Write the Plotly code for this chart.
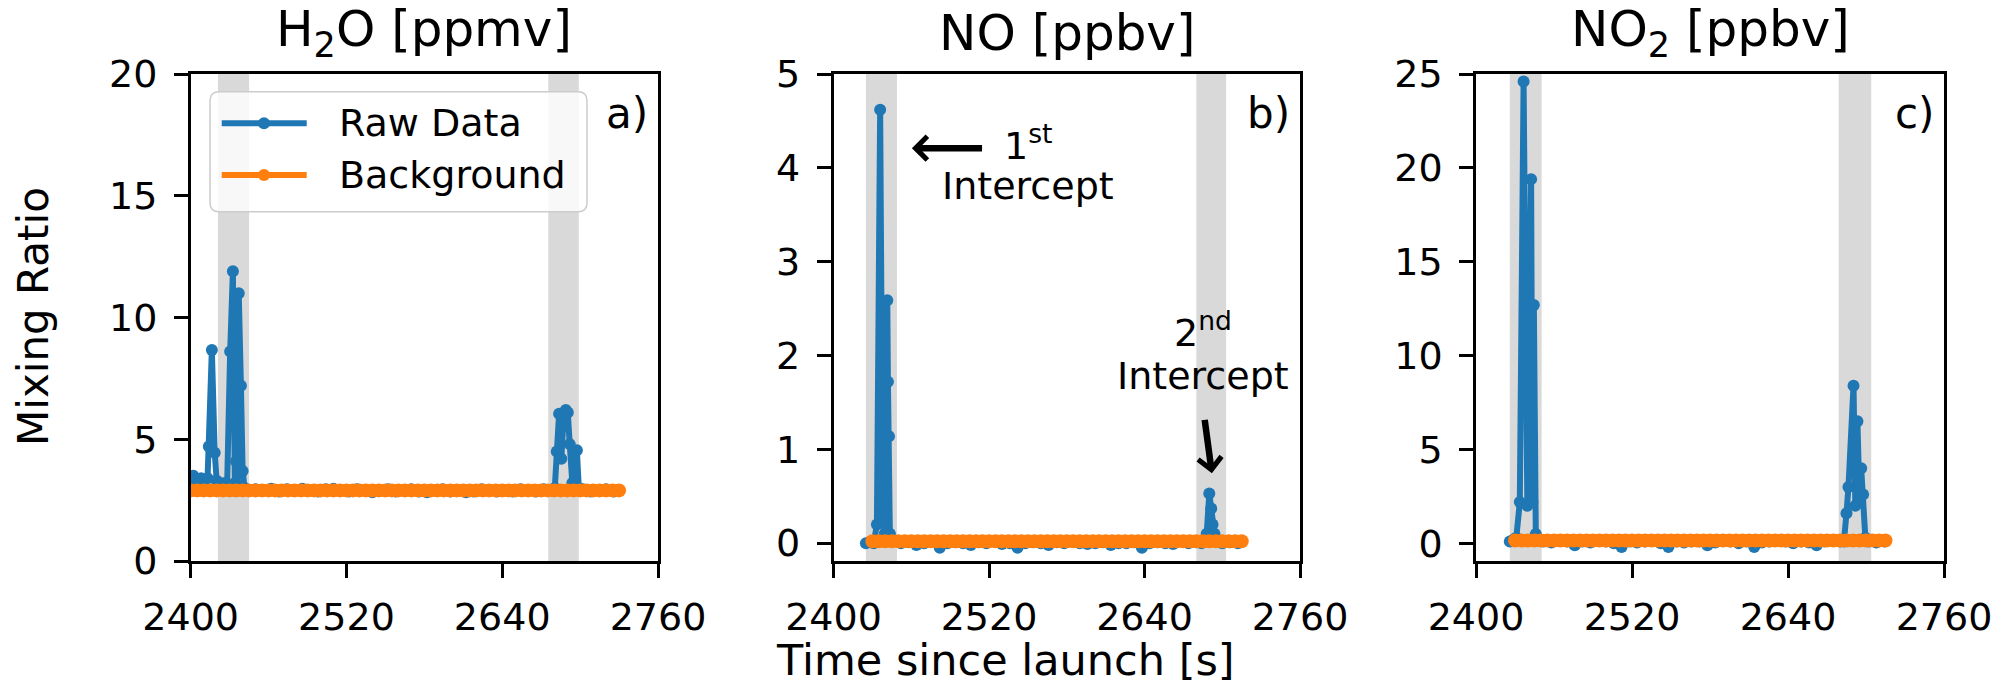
import plotly.graph_objects as go

# ---------------- data ----------------
panel_titles = ["H<sub>2</sub>O [ppmv]", "NO [ppbv]", "NO<sub>2</sub> [ppbv]"]
panel_labels = ["a)", "b)", "c)"]
x_ticks = [2400, 2520, 2640, 2760]

# H2O raw data
raw_a_t = [2396, 2399, 2402, 2405, 2408, 2411, 2413, 2414, 2416.3, 2418.5, 2420, 2422, 2424, 2426, 2428,
           2430.4, 2432.5, 2434, 2435, 2436, 2437, 2438.7, 2440, 2441.5, 2444,
           2450, 2456, 2462, 2468, 2474, 2480, 2486, 2492, 2498, 2504, 2510, 2516, 2522, 2528, 2534, 2540,
           2546, 2552, 2558, 2564, 2570, 2576, 2582, 2588, 2594, 2600, 2606, 2612, 2618, 2624, 2630, 2636,
           2642, 2648, 2654, 2660, 2666, 2672, 2678,
           2680.5, 2682, 2683.8, 2685.5, 2687, 2689, 2690.5, 2692, 2694, 2695.5, 2697.5, 2699,
           2702, 2708, 2714, 2720, 2726, 2730]
raw_a_v = [3.4, 3.3, 3.5, 3.3, 3.4, 3.3, 3.4, 4.7, 8.67, 4.45, 3.3, 3.2, 3.1, 3.2, 3.0,
           8.6, 11.9, 3.2, 4.1, 3.1, 11.0, 7.2, 3.7, 3.0, 2.9,
           2.95, 2.9, 2.97, 2.85, 2.95, 2.9, 2.97, 2.9, 2.85, 2.95, 2.97, 2.9, 2.85, 2.95, 2.9, 2.82,
           2.9, 2.95, 2.85, 2.9, 2.95, 2.85, 2.82, 2.9, 2.95, 2.85, 2.9, 2.82, 2.85, 2.95, 2.9, 2.85,
           2.9, 2.85, 2.95, 2.9, 2.85, 2.95, 2.9,
           3.0, 4.5, 6.05, 4.2, 5.6, 6.2, 6.1, 4.8, 3.2, 3.1, 4.55, 3.0,
           2.95, 2.85, 2.9, 2.95, 2.85, 2.9]
bg_a_t = [2395, 2400, 2405, 2410, 2415, 2420, 2425, 2430, 2435, 2440, 2445, 2450, 2455, 2460, 2465, 2470,
          2475, 2480, 2485, 2490, 2495, 2500, 2505, 2510, 2515, 2520, 2525, 2530, 2535, 2540, 2545, 2550,
          2555, 2560, 2565, 2570, 2575, 2580, 2585, 2590, 2595, 2600, 2605, 2610, 2615, 2620, 2625, 2630,
          2635, 2640, 2645, 2650, 2655, 2660, 2665, 2670, 2675, 2680, 2685, 2690, 2695, 2700, 2705, 2710,
          2715, 2720, 2725, 2730]
bg_a_v = [2.9, 2.9, 2.9, 2.9, 2.9, 2.9, 2.9, 2.9, 2.9, 2.9, 2.9, 2.9, 2.9, 2.9, 2.9, 2.9,
          2.9, 2.9, 2.9, 2.9, 2.9, 2.9, 2.9, 2.9, 2.9, 2.9, 2.9, 2.9, 2.9, 2.9, 2.9, 2.9,
          2.9, 2.9, 2.9, 2.9, 2.9, 2.9, 2.9, 2.9, 2.9, 2.9, 2.9, 2.9, 2.9, 2.9, 2.9, 2.9,
          2.9, 2.9, 2.9, 2.9, 2.9, 2.9, 2.9, 2.9, 2.9, 2.9, 2.9, 2.9, 2.9, 2.9, 2.9, 2.9,
          2.9, 2.9, 2.9, 2.9]

# NO raw data
raw_b_t = [2425, 2428, 2431, 2433.5, 2436, 2438, 2439.5, 2441.5, 2442, 2442.8, 2443.5, 2446,
           2452, 2458, 2464, 2470, 2476, 2482, 2488, 2494, 2500, 2506, 2512, 2518, 2524, 2530, 2536,
           2542, 2548, 2554, 2560, 2566, 2572, 2578, 2584, 2590, 2596, 2602, 2608, 2614, 2620, 2626,
           2632, 2638, 2644, 2650, 2656, 2662, 2668, 2674, 2680,
           2684, 2686, 2688, 2690, 2691.5, 2692.5, 2694, 2696, 2700, 2706, 2712]
raw_b_v = [0.0, 0.01, 0.0, 0.2, 4.62, 0.3, 0.1, 2.59, 1.72, 1.14, 0.1, 0.02,
           0.0, 0.01, -0.02, 0.0, 0.02, -0.05, 0.0, 0.01, 0.0, -0.02, 0.01, 0.0, 0.02, -0.01, 0.0,
           -0.05, 0.0, 0.01, 0.0, -0.02, 0.01, 0.0, 0.02, 0.0, -0.01, 0.0, 0.01, -0.02, 0.0, 0.0,
           0.01, -0.05, 0.0, 0.01, 0.0, -0.01, 0.02, 0.0, 0.01,
           0.0, 0.02, 0.1, 0.53, 0.37, 0.2, 0.1, 0.02, 0.0, 0.01, 0.0]
bg_bc_t = [2430, 2435, 2440, 2445, 2450, 2455, 2460, 2465, 2470, 2475, 2480, 2485, 2490, 2495, 2500,
           2505, 2510, 2515, 2520, 2525, 2530, 2535, 2540, 2545, 2550, 2555, 2560, 2565, 2570, 2575,
           2580, 2585, 2590, 2595, 2600, 2605, 2610, 2615, 2620, 2625, 2630, 2635, 2640, 2645, 2650,
           2655, 2660, 2665, 2670, 2675, 2680, 2685, 2690, 2695, 2700, 2705, 2710, 2715]
bg_b_v = [0.02, 0.02, 0.02, 0.02, 0.02, 0.02, 0.02, 0.02, 0.02, 0.02, 0.02, 0.02, 0.02, 0.02, 0.02,
          0.02, 0.02, 0.02, 0.02, 0.02, 0.02, 0.02, 0.02, 0.02, 0.02, 0.02, 0.02, 0.02, 0.02, 0.02,
          0.02, 0.02, 0.02, 0.02, 0.02, 0.02, 0.02, 0.02, 0.02, 0.02, 0.02, 0.02, 0.02, 0.02, 0.02,
          0.02, 0.02, 0.02, 0.02, 0.02, 0.02, 0.02, 0.02, 0.02, 0.02, 0.02, 0.02, 0.02]

# NO2 raw data
raw_c_t = [2426, 2429, 2431, 2433.7, 2436.6, 2439.5, 2442.4, 2443.4, 2444.5, 2446, 2448,
           2452, 2458, 2464, 2470, 2476, 2482, 2488, 2494, 2500, 2506, 2512, 2518, 2524, 2530, 2536,
           2542, 2548, 2554, 2560, 2566, 2572, 2578, 2584, 2590, 2596, 2602, 2608, 2614, 2620, 2626,
           2632, 2638, 2644, 2650, 2656, 2662, 2668, 2674, 2680,
           2683, 2685, 2686.5, 2690.4, 2691.8, 2693.4, 2695, 2696.3, 2697.8, 2699.5, 2702, 2708, 2714]
raw_c_v = [0.1, 0.2, 0.3, 2.2, 24.6, 2.0, 19.4, 2.2, 12.7, 0.5, 0.2,
           0.1, 0.05, 0.15, 0.1, -0.1, 0.1, 0.05, 0.15, 0.1, 0.0, -0.2, 0.1, 0.05, 0.1, 0.15,
           0.0, -0.2, 0.1, 0.05, 0.1, 0.1, -0.1, 0.05, 0.15, 0.1, 0.0, 0.1, -0.2, 0.05, 0.1,
           0.15, 0.1, 0.0, 0.1, 0.05, -0.1, 0.1, 0.15, 0.1,
           0.1, 1.6, 3.0, 8.4, 2.0, 6.5, 2.4, 4.0, 2.6, 0.3, 0.1, 0.05, 0.1]
bg_c_v = [0.15, 0.15, 0.15, 0.15, 0.15, 0.15, 0.15, 0.15, 0.15, 0.15, 0.15, 0.15, 0.15, 0.15, 0.15,
          0.15, 0.15, 0.15, 0.15, 0.15, 0.15, 0.15, 0.15, 0.15, 0.15, 0.15, 0.15, 0.15, 0.15, 0.15,
          0.15, 0.15, 0.15, 0.15, 0.15, 0.15, 0.15, 0.15, 0.15, 0.15, 0.15, 0.15, 0.15, 0.15, 0.15,
          0.15, 0.15, 0.15, 0.15, 0.15, 0.15, 0.15, 0.15, 0.15, 0.15, 0.15, 0.15, 0.15]

# intercept windows (shaded) per panel
windows_a = [(2421, 2445), (2675.5, 2699)]
windows_b = [(2425, 2449), (2680, 2703)]
windows_c = [(2426, 2450.5), (2679, 2704)]

y_ranges = [[0, 20], [-0.19, 5], [-0.94, 25]]
y_ticks = [[0, 5, 10, 15, 20], [0, 1, 2, 3, 4, 5], [0, 5, 10, 15, 20, 25]]

# ---------------- figure ----------------
W, H = 2003, 685
FONT = "DejaVu Sans"
BLUE = "#1f77b4"
ORANGE = "#ff7f0e"

x_domains = [[190.7 / W, 658 / W], [833.5 / W, 1300 / W], [1476 / W, 1944 / W]]
y_domain = [1 - 561 / H, 1 - 74 / H]

fig = go.Figure()
raws = [(raw_a_t, raw_a_v), (raw_b_t, raw_b_v), (raw_c_t, raw_c_v)]
bgs = [(bg_a_t, bg_a_v), (bg_bc_t, bg_b_v), (bg_bc_t, bg_c_v)]
windows = [windows_a, windows_b, windows_c]

shapes = []
annotations = []
for i in range(3):
    sfx = "" if i == 0 else str(i + 1)
    xa, ya = "x" + sfx, "y" + sfx
    fig.add_trace(go.Scatter(x=raws[i][0], y=raws[i][1], xaxis=xa, yaxis=ya, mode="lines+markers",
                             line=dict(color=BLUE, width=6), marker=dict(color=BLUE, size=12),
                             name="Raw Data", showlegend=False))
    fig.add_trace(go.Scatter(x=bgs[i][0], y=bgs[i][1], xaxis=xa, yaxis=ya, mode="lines+markers",
                             line=dict(color=ORANGE, width=12), marker=dict(color=ORANGE, size=14),
                             name="Background", showlegend=False))
    common_axis = dict(showline=True, linecolor="black", linewidth=2.5, mirror=True, showgrid=False,
                       zeroline=False, ticks="outside", ticklen=14, tickwidth=2.5, tickcolor="black",
                       automargin=False,
                       tickfont=dict(family=FONT, size=38, color="black"))
    fig.layout["xaxis" + sfx] = dict(domain=x_domains[i], anchor=ya, range=[2400, 2760],
                                     tickvals=x_ticks, ticktext=[str(t) for t in x_ticks],
                                     ticklabelstandoff=7, **common_axis)
    fig.layout["yaxis" + sfx] = dict(domain=y_domain, anchor=xa, range=y_ranges[i],
                                     tickvals=y_ticks[i], ticktext=[str(t) for t in y_ticks[i]],
                                     ticklabelstandoff=9, **common_axis)
    for (t0, t1) in windows[i]:
        shapes.append(dict(type="rect", xref=xa, yref=ya + " domain", x0=t0, x1=t1, y0=0, y1=1,
                           fillcolor="rgba(128,128,128,0.3)", line=dict(width=0), layer="below"))
    # subplot title
    annotations.append(dict(text=panel_titles[i], xref="paper", yref="paper",
                            x=(x_domains[i][0] + x_domains[i][1]) / 2, y=1 - 33 / H,
                            xanchor="center", yanchor="middle", showarrow=False,
                            font=dict(family=FONT, size=50, color="black")))
    # panel label
    annotations.append(dict(text=panel_labels[i], xref=xa + " domain", yref=ya + " domain",
                            x=1, y=(561 - 113) / 487, xanchor="right", yanchor="middle", xshift=-8,
                            showarrow=False, font=dict(family=FONT, size=42, color="black")))

# axis labels
annotations.append(dict(text="Time since launch [s]", xref="paper", yref="paper", x=1005 / W, y=1 - 660 / H,
                        xanchor="center", yanchor="middle", showarrow=False,
                        font=dict(family=FONT, size=43, color="black")))
annotations.append(dict(text="Mixing Ratio", xref="paper", yref="paper", x=33 / W, y=1 - 317 / H,
                        xanchor="center", yanchor="middle", textangle=-90, showarrow=False,
                        font=dict(family=FONT, size=42, color="black")))

# intercept annotations (panel b)
tf = dict(family=FONT, size=38, color="black")
annotations += [
    dict(text="1<sup>st</sup>", xref="x2", yref="y2", x=2550.3, y=4.26, showarrow=False, font=tf,
         xanchor="center", yanchor="middle"),
    dict(text="Intercept", xref="x2", yref="y2", x=2550.3, y=3.81, showarrow=False, font=tf,
         xanchor="center", yanchor="middle"),
    dict(text="2<sup>nd</sup>", xref="x2", yref="y2", x=2685.3, y=2.27, showarrow=False, font=tf,
         xanchor="center", yanchor="middle"),
    dict(text="Intercept", xref="x2", yref="y2", x=2685.3, y=1.78, showarrow=False, font=tf,
         xanchor="center", yanchor="middle"),
    dict(text="", xref="x2", yref="y2", x=2460.5, y=4.21, axref="x2", ayref="y2", ax=2515.8, ay=4.21,
         showarrow=True, arrowhead=4, arrowwidth=6.5, arrowsize=0.7, arrowcolor="black", standoff=0),
    dict(text="", xref="x2", yref="y2", x=2692, y=0.745, axref="x2", ayref="y2", ax=2686.3, ay=1.33,
         showarrow=True, arrowhead=4, arrowwidth=6.5, arrowsize=0.7, arrowcolor="black", standoff=0),
]

# manual legend (box, sample lines with markers, labels)
def px(xp):
    return xp / W


def py(yp):
    return 1 - yp / H


lx0, lx1, ly0, ly1, r = 210, 587, 91.7, 211.7, 9
path = (f"M {px(lx0 + r)},{py(ly0)} L {px(lx1 - r)},{py(ly0)} Q {px(lx1)},{py(ly0)} {px(lx1)},{py(ly0 + r)} "
        f"L {px(lx1)},{py(ly1 - r)} Q {px(lx1)},{py(ly1)} {px(lx1 - r)},{py(ly1)} "
        f"L {px(lx0 + r)},{py(ly1)} Q {px(lx0)},{py(ly1)} {px(lx0)},{py(ly1 - r)} "
        f"L {px(lx0)},{py(ly0 + r)} Q {px(lx0)},{py(ly0)} {px(lx0 + r)},{py(ly0)} Z")
shapes.append(dict(type="path", xref="paper", yref="paper", path=path,
                   fillcolor="rgba(255,255,255,0.8)", line=dict(color="rgba(204,204,204,1)", width=1.5)))
for (yy, col, name) in [(123.3, BLUE, "Raw Data"), (175, ORANGE, "Background")]:
    shapes.append(dict(type="line", xref="paper", yref="paper", x0=px(221.7), x1=px(306.7),
                       y0=py(yy), y1=py(yy), line=dict(color=col, width=6)))
    shapes.append(dict(type="circle", xref="paper", yref="paper", x0=px(264 - 6), x1=px(264 + 6),
                       y0=py(yy + 6), y1=py(yy - 6), fillcolor=col, line=dict(width=0)))
    annotations.append(dict(text=name, xref="paper", yref="paper", x=px(336.7), y=py(yy),
                            xanchor="left", yanchor="middle", showarrow=False,
                            font=dict(family=FONT, size=38, color="black")))

fig.update_layout(width=W, height=H, margin=dict(l=0, r=0, t=0, b=0, autoexpand=False),
                  paper_bgcolor="white", plot_bgcolor="white", shapes=shapes, annotations=annotations,
                  showlegend=False, font=dict(family=FONT, color="black"))

fig.write_html("out.html")
